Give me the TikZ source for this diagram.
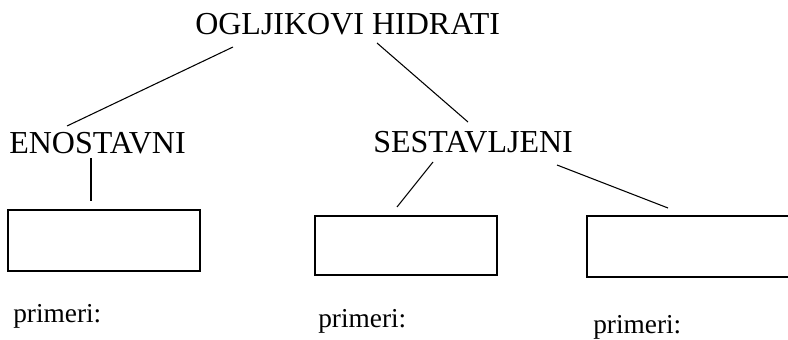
\documentclass[tikz,border=0pt]{standalone}
\usepackage{fontspec}
\setmainfont{Liberation Serif}
\begin{document}
\begin{tikzpicture}[x=0.75pt,y=-0.75pt,
  title/.style={inner sep=0pt,anchor=base west,font=\fontsize{24}{29}\selectfont},
  note/.style={inner sep=0pt,anchor=base west,font=\fontsize{20.5}{25}\selectfont},
  box/.style={draw,line width=1.1pt,inner sep=0pt},
  link/.style={line width=0.8pt}]
\useasboundingbox (0,0) rectangle (788,339);
\clip (0,0) rectangle (788,339);
\fill[white] (0,0) rectangle (788,339);

% headings
\node[title] (top) at (195,34) {OGLJIKOVI HIDRATI};
\node[title] (eno) at (9,153) {ENOSTAVNI};
\node[title] (ses) at (373,152) {SESTAVLJENI};

% empty boxes
\node[box,minimum width=144pt,minimum height=45.75pt] (b1) at (104,240.5) {};
\node[box,minimum width=136.5pt,minimum height=44.25pt] (b2) at (406,245.5) {};
\node[box,minimum width=159.75pt,minimum height=45.75pt] (b3) at (693.5,246.5) {};

% captions under the boxes
\node[note] (p1) at (13,322) {primeri:};
\node[note] (p2) at (318,327) {primeri:};
\node[note] (p3) at (593,333) {primeri:};

% loose ends of the connecting strokes
\coordinate (top-l) at (233,47);
\coordinate (top-r) at (377,43);
\coordinate (eno-t) at (67,126);
\coordinate (eno-b) at (91,158);
\coordinate (ses-t) at (468,122);
\coordinate (ses-l) at (433,162);
\coordinate (ses-r) at (557,165);
\coordinate (b1-t) at (91,201);
\coordinate (b2-t) at (397,207);
\coordinate (b3-t) at (668,208);

\draw[link] (top-l) -- (eno-t);
\draw[link] (top-r) -- (ses-t);
\draw[link] (eno-b) -- (b1-t);
\draw[link] (ses-l) -- (b2-t);
\draw[link] (ses-r) -- (b3-t);
\end{tikzpicture}
\end{document}
